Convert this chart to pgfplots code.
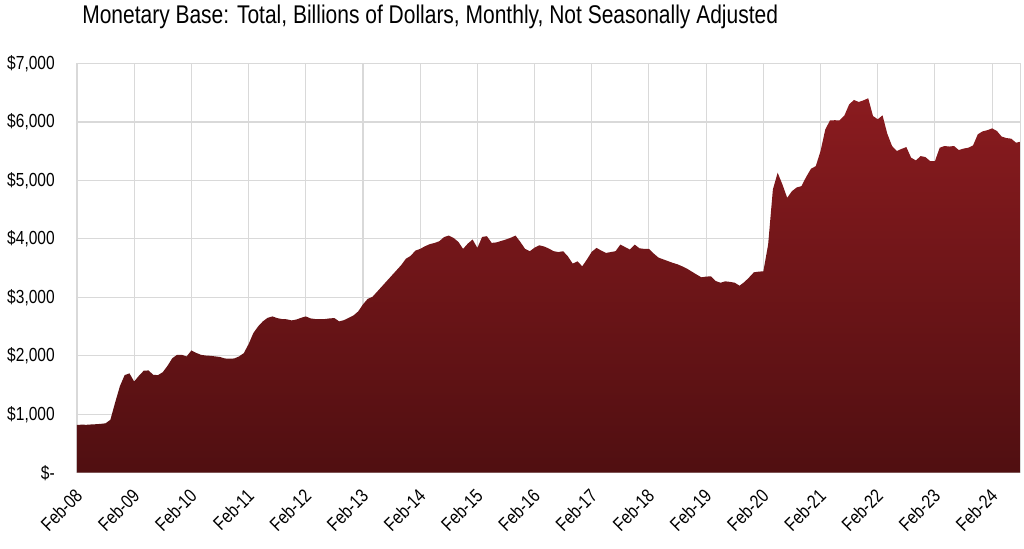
\documentclass[border=0pt]{standalone}
\usepackage{fontspec}
\setmainfont{Liberation Sans}[FakeStretch=0.82]
\usepackage{pgfplots}
\usepackage{pgfplotstable}
\pgfplotsset{compat=1.18}
\definecolor{gridgray}{RGB}{217,217,217}
\definecolor{topred}{RGB}{138,27,31}
\definecolor{botred}{RGB}{80,15,17}
\pgfplotstableread{
x y
0 818
1 822
2 820
3 826
4 830
5 836
6 846
7 905
8 1200
9 1480
10 1670
11 1700
12 1560
13 1660
14 1745
15 1750
16 1675
17 1670
18 1720
19 1830
20 1960
21 2017
22 2017
23 1989
24 2092
25 2050
26 2017
27 2005
28 2000
29 1990
30 1980
31 1955
32 1950
33 1955
34 1990
35 2046
36 2200
37 2389
38 2503
39 2590
40 2650
41 2674
42 2645
43 2629
44 2625
45 2606
46 2620
47 2650
48 2674
49 2640
50 2629
51 2629
52 2629
53 2640
54 2646
55 2589
56 2610
57 2650
58 2690
59 2760
60 2880
61 2975
62 3010
63 3100
64 3190
65 3280
66 3370
67 3460
68 3550
69 3660
70 3710
71 3800
72 3829
73 3874
74 3910
75 3930
76 3960
77 4030
78 4057
79 4017
80 3950
81 3829
82 3920
83 3990
84 3846
85 4034
86 4046
87 3932
88 3940
89 3965
90 3990
91 4020
92 4057
93 3950
94 3830
95 3789
96 3850
97 3891
98 3870
99 3835
100 3790
101 3775
102 3789
103 3700
104 3577
105 3617
106 3531
107 3650
108 3780
109 3846
110 3800
111 3760
112 3775
113 3790
114 3903
115 3860
116 3817
117 3903
118 3840
119 3829
120 3829
121 3750
122 3680
123 3650
124 3620
125 3590
126 3565
127 3530
128 3490
129 3440
130 3390
131 3343
132 3355
133 3360
134 3280
135 3250
136 3274
137 3265
138 3250
139 3200
140 3260
141 3340
142 3428
143 3440
144 3446
145 3900
146 4846
147 5132
148 4931
149 4703
150 4817
151 4880
152 4903
153 5063
154 5200
155 5245
156 5503
157 5874
158 6029
159 6030
160 6029
161 6110
162 6300
163 6377
164 6343
165 6370
166 6406
167 6103
168 6046
169 6114
170 5800
171 5589
172 5503
173 5540
174 5571
175 5389
176 5343
177 5417
178 5400
179 5331
180 5331
181 5560
182 5589
183 5580
184 5589
185 5520
186 5545
187 5560
188 5600
189 5790
190 5840
191 5860
192 5891
193 5846
194 5750
195 5725
196 5715
197 5646
198 5663
}\mbdata
\begin{document}
\begin{tikzpicture}
\useasboundingbox (0,0) rectangle (768pt,411.75pt);
\begin{axis}[
  at={(57.75pt,57.2pt)}, anchor=south west,
  width=707.8pt, height=306.9pt, scale only axis,
  xmin=0, xmax=198, ymin=0, ymax=7000,
  xtick={0,12,24,36,48,60,72,84,96,108,120,132,144,156,168,180,192},
  xticklabels={Feb-08,Feb-09,Feb-10,Feb-11,Feb-12,Feb-13,Feb-14,Feb-15,Feb-16,Feb-17,Feb-18,Feb-19,Feb-20,Feb-21,Feb-22,Feb-23,Feb-24},
  ytick={0,1000,2000,3000,4000,5000,6000,7000},
  yticklabels={{\$-\hspace{6pt}},{\$1,000},{\$2,000},{\$3,000},{\$4,000},{\$5,000},{\$6,000},{\$7,000}},
  major tick length=0pt,
  grid=major,
  major grid style={gridgray, line width=0.8pt},
  axis line style={gridgray, line width=1pt},
  tick label style={font=\fontsize{14.2}{16}\selectfont, text=black},
  yticklabel style={anchor=east, inner sep=0pt, xshift=-16.5pt},
  xticklabel style={yshift=-15pt, xshift=1.5pt, rotate=45, anchor=east, inner sep=0pt},
  title={Monetary Base: Total, Billions of Dollars, Monthly, Not Seasonally Adjusted},
  title style={at={(axis description cs:0.0053,1)}, anchor=base west, yshift=24pt, inner sep=0pt, font=\fontsize{19.2}{22}\selectfont},
  clip=true,
]
\addplot[draw=none, top color=topred, bottom color=botred] table[x=x,y=y] {\mbdata} \closedcycle;
\end{axis}
\end{tikzpicture}
\end{document}
